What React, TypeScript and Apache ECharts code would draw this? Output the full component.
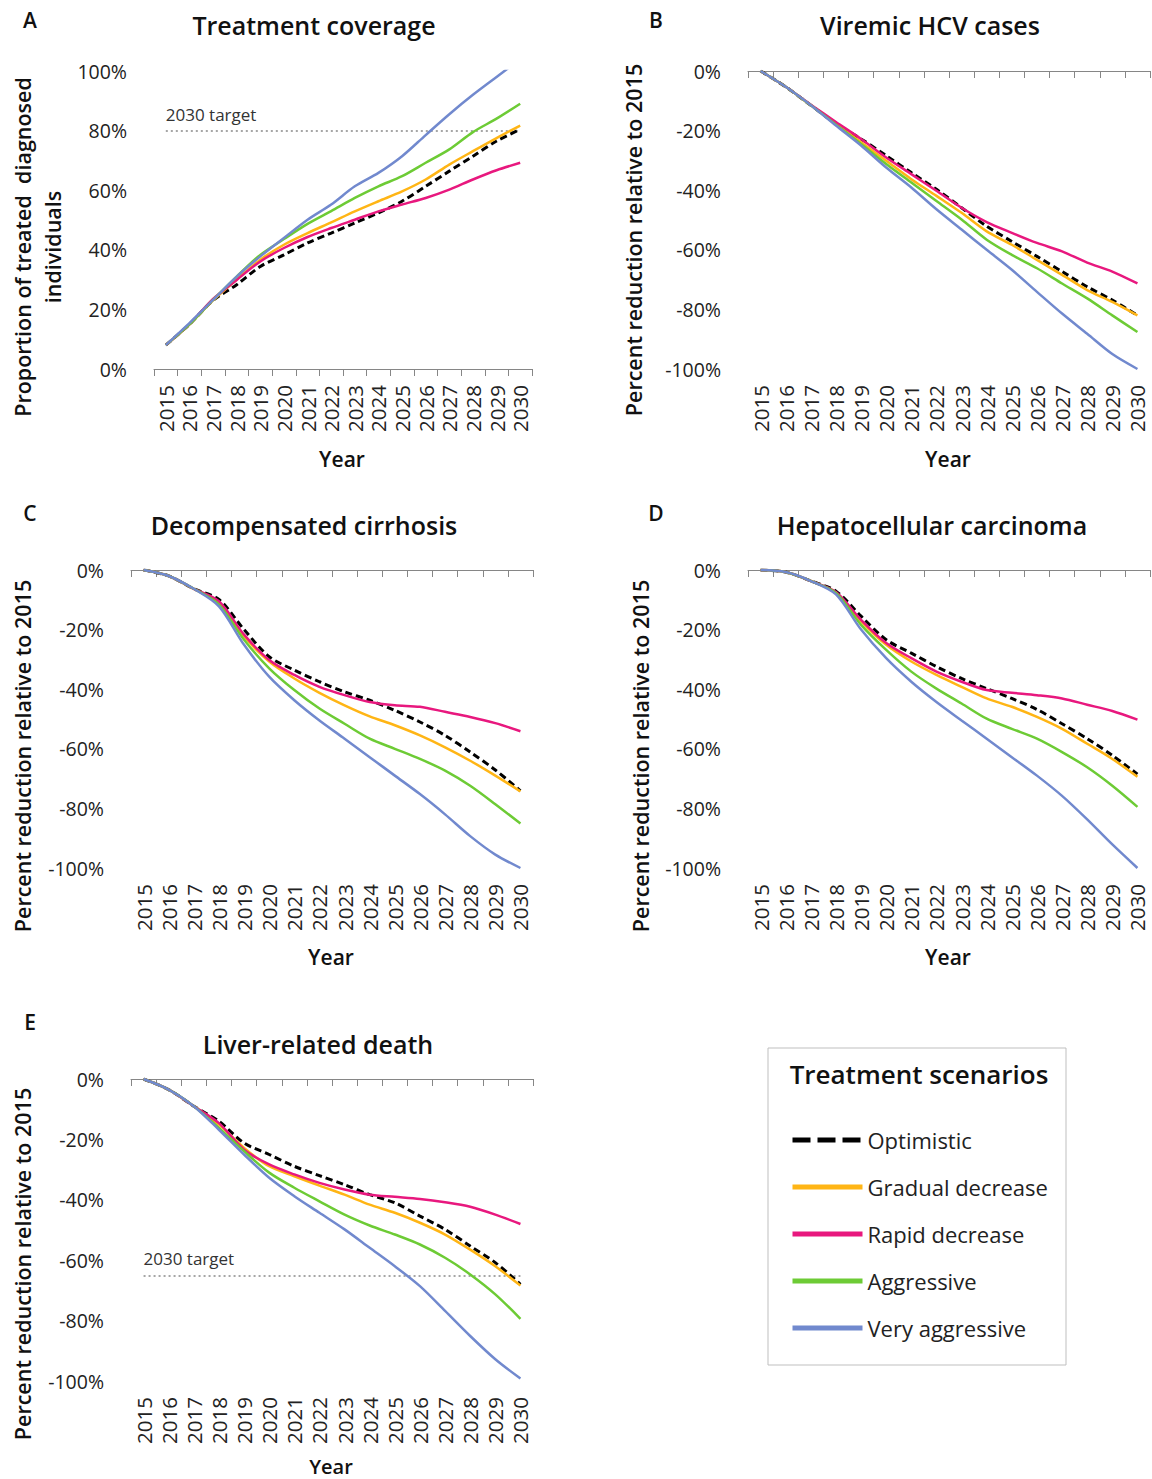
import React, { useEffect, useRef } from "react";
import * as echarts from "echarts";

const years = ["2015","2016","2017","2018","2019","2020","2021","2022","2023","2024","2025","2026","2027","2028","2029","2030"];

const scenarioNames = ["Optimistic", "Gradual decrease", "Rapid decrease", "Aggressive", "Very aggressive"];
const scenarioColors = ["#000000", "#FFB515", "#E8187E", "#6DCB35", "#7189CE"];

// A: Treatment coverage (%)
const coverageOptimistic = [8, 15, 23, 28.3, 34.4, 38.3, 42.3, 45.6, 49, 52.4, 56.3, 61.3, 66.4, 71.4, 76.5, 80.4];
const coverageGradual = [8, 15, 23, 30, 36.7, 41.7, 45.6, 49.2, 52.9, 56.3, 59.6, 63.6, 68.6, 73.1, 77.5, 81.7];
const coverageRapid = [8, 15, 23.5, 29.9, 36.1, 40.6, 44.3, 47.3, 50.1, 52.9, 55.2, 57.4, 60.2, 63.6, 66.7, 69.2];
const coverageAggressive = [8, 15, 23.2, 31, 38.3, 43.6, 48.7, 53, 57.4, 61.3, 64.7, 69.2, 73.7, 79.5, 84, 89];
const coverageVeryAggressive = [8, 15.4, 23.2, 31, 37.8, 44, 50.1, 55.2, 61.3, 65.8, 71.4, 78.5, 85.5, 92, 98, 104];

// B: Viremic HCV cases
const viremicOptimistic = [0, -5.3, -11.5, -17.7, -22.8, -28.4, -34.1, -39.7, -45.9, -52.1, -57.2, -62.2, -67.3, -72.4, -76.9, -82];
const viremicGradual = [0, -5.3, -11.5, -17.7, -23.9, -30.1, -36.3, -41.9, -47.6, -53.8, -58.3, -63.4, -68.4, -73.5, -77.5, -82];
const viremicRapid = [0, -5.3, -11.3, -17.1, -22.8, -29, -34.6, -40.2, -45.9, -50.7, -54.3, -57.7, -60.5, -64.3, -67.3, -71.3];
const viremicAggressive = [0, -5.3, -11.5, -18, -24.5, -31.2, -37.4, -43.6, -49.8, -56.6, -61.7, -66.2, -71.3, -76.3, -82, -87.6];
const viremicVeryAggressive = [0, -5.3, -11.5, -18.3, -25, -32.4, -39.1, -46.4, -53.2, -60, -66.7, -74.1, -81.4, -88.2, -95, -100];

// C: Decompensated cirrhosis
const cirrhosisOptimistic = [0, -2, -6.3, -9.9, -20, -29.1, -33.6, -37.5, -40.9, -43.7, -47.1, -51, -55.5, -61.1, -67.1, -74.1];
const cirrhosisGradual = [0, -2, -6.3, -11, -22.3, -30.7, -36.4, -41.2, -45.4, -49.1, -52.1, -55.5, -59.5, -64, -69, -74.3];
const cirrhosisRapid = [0, -2, -6.3, -10.5, -21.7, -30.2, -35.2, -39.2, -42, -44.3, -45.4, -45.9, -47.6, -49.3, -51.4, -54.1];
const cirrhosisAggressive = [0, -2, -6.3, -11.6, -23.4, -33, -40.3, -46.5, -51.6, -56.6, -60, -63.4, -67.3, -72.4, -78.6, -85.1];
const cirrhosisVeryAggressive = [0, -2, -6.3, -12.2, -25.1, -35.8, -43.7, -50.5, -56.6, -62.8, -69, -75.2, -82, -89.3, -95.5, -100];

// D: Hepatocellular carcinoma
const hccOptimistic = [0, -0.7, -3.7, -7.1, -15.5, -23.4, -27.9, -32.4, -36.4, -39.8, -43.1, -46.8, -51.6, -56.6, -62.2, -68.5];
const hccGradual = [0, -0.7, -3.7, -7.7, -17.2, -25.1, -30.7, -35.2, -39.2, -43.1, -45.9, -49.3, -53.3, -58.3, -63.4, -69.4];
const hccRapid = [0, -0.7, -3.7, -7.4, -16.7, -24.5, -29.6, -34.1, -37.5, -40.3, -41.2, -42, -43.1, -45.2, -47.3, -50.2];
const hccAggressive = [0, -0.7, -3.7, -7.7, -18.4, -26.8, -34.1, -39.8, -44.8, -49.9, -53.3, -56.6, -61.1, -66.2, -72.4, -79.5];
const hccVeryAggressive = [0, -0.7, -3.7, -8.2, -20, -29.6, -37.5, -44.3, -50.5, -56.6, -62.8, -69, -75.8, -83.7, -92.1, -100];

// E: Liver-related death
const deathOptimistic = [0, -3.5, -9, -14, -21.2, -25, -28.9, -32, -35, -38.3, -41, -45.4, -49.8, -55.3, -60.8, -68];
const deathGradual = [0, -3.5, -9, -15.1, -22.8, -28.9, -32.2, -35.3, -38.3, -41.6, -44.3, -47.6, -51.5, -56.5, -62, -68.4];
const deathRapid = [0, -3.5, -9, -14.6, -23.4, -28.3, -31.6, -34.4, -36.6, -38.3, -39, -39.7, -40.8, -42.3, -44.9, -48];
const deathAggressive = [0, -3.5, -9, -16.2, -23.9, -31, -36, -40.5, -44.9, -48.5, -51.5, -54.8, -59.2, -64.7, -71.3, -79.4];
const deathVeryAggressive = [0, -3.5, -9, -16.8, -25, -32.7, -38.8, -44.3, -49.8, -55.9, -62, -68.6, -76.8, -85.1, -92.8, -99.2];

const coverageTarget = 80;
const deathTarget = -65;
const targetLabel = "2030 target";

const FONT = "'Open Sans', 'Noto Sans', sans-serif";
const AXIS_COLOR = "#868686";
const TEXT_COLOR = "#222";

function buildOption() {
  const grids = [
    { left: 154, top: 71, width: 378, height: 298 },
    { left: 748, top: 71, width: 402, height: 298 },
    { left: 131, top: 570, width: 402, height: 298 },
    { left: 748, top: 570, width: 402, height: 298 },
    { left: 131, top: 1079, width: 402, height: 302 },
  ];

  const labelStyle = {
    rotate: 90,
    interval: 0,
    fontSize: 20.5,
    color: TEXT_COLOR,
    fontFamily: FONT,
    margin: 16,
  };

  const xAxes: any[] = [
    {
      gridIndex: 0,
      type: "category",
      data: years,
      position: "bottom",
      axisLine: { onZero: false, lineStyle: { color: AXIS_COLOR, width: 1 } },
      axisTick: { show: true, interval: 0, length: 7, lineStyle: { color: AXIS_COLOR } },
      axisLabel: labelStyle,
    },
  ];
  for (let g = 1; g < 5; g++) {
    xAxes.push({
      gridIndex: g,
      type: "category",
      data: years,
      position: "top",
      axisLine: { onZero: false, lineStyle: { color: AXIS_COLOR, width: 1 } },
      axisTick: { show: true, inside: true, interval: 0, length: 7, lineStyle: { color: AXIS_COLOR } },
      axisLabel: { show: false },
    });
    xAxes.push({
      gridIndex: g,
      type: "category",
      data: years,
      position: "bottom",
      axisLine: { show: false, onZero: false },
      axisTick: { show: false },
      axisLabel: labelStyle,
    });
  }

  const yAxes = grids.map((_, g) => ({
    gridIndex: g,
    type: "value",
    min: g === 0 ? 0 : -100,
    max: g === 0 ? 100 : 0,
    interval: 20,
    axisLine: { show: false },
    axisTick: { show: false },
    splitLine: { show: false },
    axisLabel: { formatter: "{value}%", fontSize: 19.5, color: TEXT_COLOR, fontFamily: FONT, margin: 27 },
  }));

  const panels = [
    { grid: 0, xAxis: 0, data: [coverageOptimistic, coverageGradual, coverageRapid, coverageAggressive, coverageVeryAggressive], target: coverageTarget },
    { grid: 1, xAxis: 2, data: [viremicOptimistic, viremicGradual, viremicRapid, viremicAggressive, viremicVeryAggressive] },
    { grid: 2, xAxis: 4, data: [cirrhosisOptimistic, cirrhosisGradual, cirrhosisRapid, cirrhosisAggressive, cirrhosisVeryAggressive] },
    { grid: 3, xAxis: 6, data: [hccOptimistic, hccGradual, hccRapid, hccAggressive, hccVeryAggressive] },
    { grid: 4, xAxis: 8, data: [deathOptimistic, deathGradual, deathRapid, deathAggressive, deathVeryAggressive], target: deathTarget },
  ];

  const series: any[] = [];
  panels.forEach((p: any) => {
    p.data.forEach((values: number[], i: number) => {
      const s: any = {
        type: "line",
        name: scenarioNames[i],
        xAxisIndex: p.xAxis,
        yAxisIndex: p.grid,
        data: values,
        smooth: 0.3,
        symbol: "none",
        showSymbol: false,
        clip: true,
        z: 2 + i,
        itemStyle: { color: scenarioColors[i] },
        lineStyle: {
          color: scenarioColors[i],
          width: i === 0 ? 3 : 2.5,
          type: i === 0 ? [7, 4] : "solid",
        },
      };
      if (i === 0 && p.target !== undefined) {
        s.markLine = {
          silent: true,
          symbol: "none",
          z: 1,
          lineStyle: { color: "#a6a6a6", width: 2, type: [2, 3] },
          label: {
            show: true,
            formatter: targetLabel,
            position: "insideStartTop",
            fontSize: 17,
            color: "#333",
            fontFamily: FONT,
            distance: [0, 8],
          },
          data: [[{ coord: [years[0], p.target] }, { coord: [years[years.length - 1], p.target] }]],
        };
      }
      series.push(s);
    });
  });

  const txt = (x: number, y: number, text: string, fontSize: number, bold: boolean, rotate = false, extra: any = {}) => ({
    type: "text",
    x,
    y,
    rotation: rotate ? Math.PI / 2 : 0,
    style: {
      text,
      fontSize,
      fontWeight: bold ? 600 : "normal",
      fontFamily: FONT,
      fill: "#111",
      textAlign: "center",
      textVerticalAlign: "middle",
      ...extra,
    },
  });

  const graphic: any[] = [
    txt(30, 20, "A", 21, true),
    txt(656, 20, "B", 21, true),
    txt(30, 513, "C", 21, true),
    txt(656, 513, "D", 21, true),
    txt(30, 1022, "E", 21, true),
    txt(314, 25, "Treatment coverage", 25, true),
    txt(930, 25, "Viremic HCV cases", 25, true),
    txt(304, 525, "Decompensated cirrhosis", 25, true),
    txt(932, 525, "Hepatocellular carcinoma", 25, true),
    txt(318, 1044, "Liver-related death", 25, true),
    txt(37, 247, "Proportion of treated  diagnosed\nindividuals", 21.5, true, true, { lineHeight: 30 }),
    txt(633, 240, "Percent reduction relative to 2015", 21.5, true, true),
    txt(22, 756, "Percent reduction relative to 2015", 21.5, true, true),
    txt(640, 756, "Percent reduction relative to 2015", 21.5, true, true),
    txt(22, 1264, "Percent reduction relative to 2015", 21.5, true, true),
    txt(342, 459, "Year", 21, true),
    txt(948, 459, "Year", 21, true),
    txt(331, 957, "Year", 21, true),
    txt(948, 957, "Year", 21, true),
    txt(331, 1466, "Year", 20, true),
    {
      type: "rect",
      shape: { x: 768, y: 1048, width: 298, height: 317 },
      style: { fill: "#fff", stroke: "#bfbfbf", lineWidth: 1 },
      z: -1,
    },
    txt(919, 1074, "Treatment scenarios", 26, true),
  ];

  return {
    animation: false,
    backgroundColor: "#ffffff",
    grid: grids,
    xAxis: xAxes,
    yAxis: yAxes,
    series,
    legend: {
      orient: "vertical",
      left: 790,
      top: 1127,
      padding: 0,
      itemWidth: 70,
      itemHeight: 24,
      itemGap: 21,
      selectedMode: false,
      textStyle: { fontSize: 22, color: TEXT_COLOR, fontFamily: FONT, lineHeight: 26 },
      data: scenarioNames.map((n, i) => ({
        name: n,
        itemStyle: { opacity: 0 },
        lineStyle: { width: 5, type: i === 0 ? [18, 7] : "solid", color: scenarioColors[i], opacity: 1 },
      })),
    },
    graphic,
  };
}

export default function App() {
  const ref = useRef<HTMLDivElement>(null);
  useEffect(() => {
    if (!ref.current) return;
    const chart = echarts.init(ref.current, null, { renderer: "svg" });
    chart.setOption(buildOption() as any);
    return () => chart.dispose();
  }, []);
  return (
    <div
      ref={ref}
      style={{ position: "absolute", left: 0, top: 0, width: 1152, height: 1479, background: "#fff" }}
    />
  );
}
